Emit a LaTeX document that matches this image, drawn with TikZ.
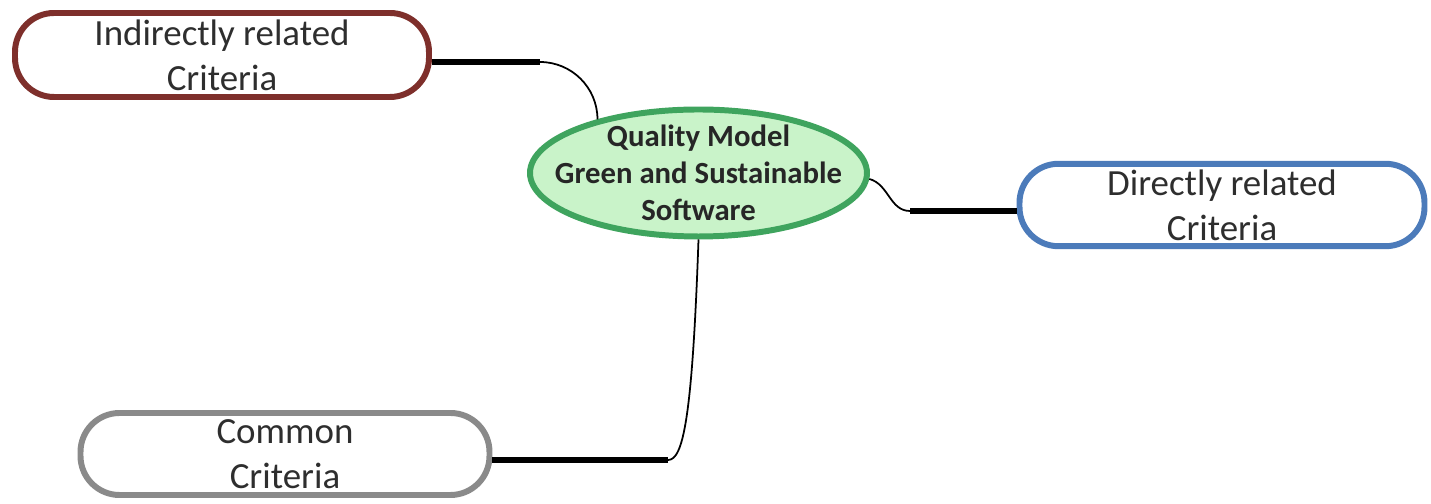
\documentclass[tikz,border=0pt]{standalone}
\usepackage{fontspec}
\setmainfont{Carlito}
\usetikzlibrary{positioning, arrows.meta, shapes}
\usepackage{xcolor}
\definecolor{critRed}{HTML}{7E2F2B}
\definecolor{critBlue}{HTML}{4C7BBA}
\definecolor{critGray}{HTML}{8A8A8A}
\definecolor{coreGreen}{HTML}{3FA45E}
\definecolor{coreFill}{HTML}{C9F3C9}
\definecolor{textGray}{HTML}{2E2E2E}

\begin{document}
\begin{tikzpicture}
  \tikzstyle{crit} = [rectangle, draw, line width=3.4pt, rounded corners=0.78cm,
    minimum width=8.28cm, minimum height=1.68cm, align=center, text=textGray,
    font=\fontsize{21}{25.5}\selectfont]
  \tikzstyle{core} = [ellipse, draw=coreGreen, fill=coreFill, line width=3.4pt,
    minimum width=6.74cm, minimum height=2.54cm, align=center, text=black!85,
    inner xsep=-0.6cm, inner ysep=-0.2cm, font=\fontsize{17.5}{21}\selectfont\bfseries]
  \tikzstyle{trunk} = [line width=3pt]
  \tikzstyle{twig} = [line width=1pt]

  \useasboundingbox (0,0) rectangle (28.62,10.08);

  % Nodo central
  \node[core] (qm) at (13.97,6.62) {Quality Model\\Green and Sustainable\\Software};

  % Criterios
  \node[crit, draw=critRed] (ind) at (4.44,8.98) {Indirectly related\\Criteria};
  \node[crit, draw=critBlue, minimum width=8.1cm, minimum height=1.58cm] (dir) at (24.44,5.98) {Directly related\\Criteria};
  \node[crit, draw=critGray, minimum width=8.18cm, minimum height=1.64cm] (com) at (5.70,1.0) {Common\\Criteria};

  % Puntos de union
  \coordinate (k1) at (10.8,8.84);
  \coordinate (k2) at (18.2,5.86);
  \coordinate (k3) at (13.36,0.88);

  % Conexiones
  \draw[trunk] (k1 -| ind.east) -- (k1);
  \draw[twig] (k1) to[out=0, in=90] (qm.152);
  \draw[twig] (qm.-2) to[out=-15, in=180] (k2);
  \draw[trunk] (k2) -- (k2 -| dir.west);
  \draw[twig] (qm.south) to[out=-92, in=0, out distance=3.6cm, in distance=0.3cm] (k3);
  \draw[trunk] (k3) -- (k3 -| com.east);
\end{tikzpicture}
\end{document}
